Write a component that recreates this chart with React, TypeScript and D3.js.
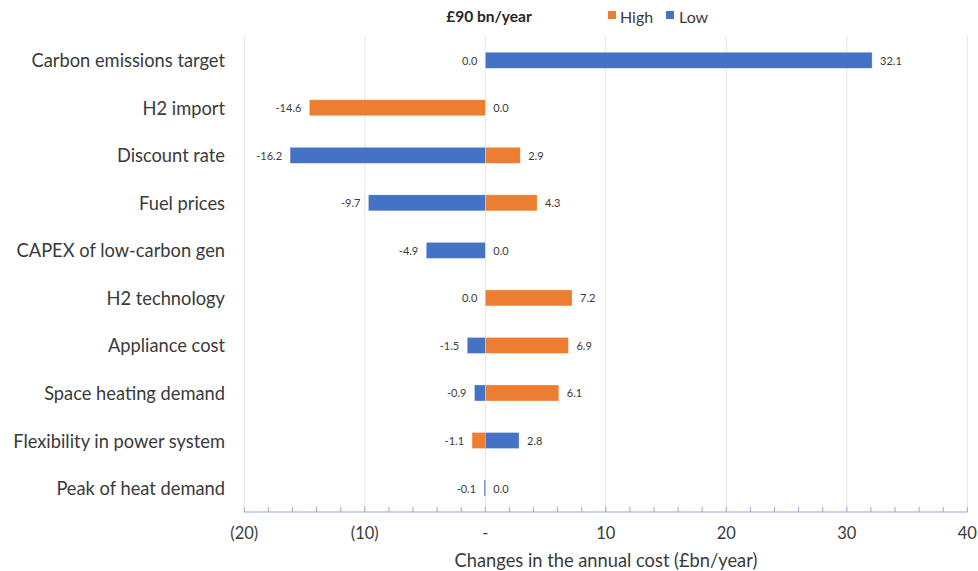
import React from "react";
import * as d3 from "d3";

// Sensitivity of annual system cost (£bn/year) around a £90 bn/year base case
const categories = [
  "Carbon emissions target",
  "H2 import",
  "Discount rate",
  "Fuel prices",
  "CAPEX of low-carbon gen",
  "H2 technology",
  "Appliance cost",
  "Space heating demand",
  "Flexibility in power system",
  "Peak of heat demand",
];
const highValues = [0.0, -14.6, 2.9, 4.3, 0.0, 7.2, 6.9, 6.1, -1.1, 0.0];
const lowValues = [32.1, 0.0, -16.2, -9.7, -4.9, 0.0, -1.5, -0.9, 2.8, -0.1];
const tickValues = [-20, -10, 0, 10, 20, 30, 40];
const tickLabel = (v: number) => (v < 0 ? `(${Math.abs(v)})` : v === 0 ? "-" : `${v}`);

const W = 978;
const H = 571;
const FONT = "Lato, 'Open Sans', sans-serif";
const HIGH = "#ED7D31";
const LOW = "#4472C4";
const TEXT = "#3a3a3a";

export default function App() {
  const x = d3.scaleLinear().domain([-20, 40]).range([244.3, 967.3]);
  const y = d3
    .scaleBand<string>()
    .domain(categories)
    .range([36.5, 511.8])
    .paddingInner(0.663)
    .paddingOuter(0.3315);
  const bh = y.bandwidth();
  const minorTicks = d3.range(-20, 40.001, 2);

  const rows = categories.map((c, i) => {
    const hi = highValues[i];
    const lo = lowValues[i];
    return { c, hi, lo, min: Math.min(hi, lo), max: Math.max(hi, lo) };
  });

  return (
    <svg width={W} height={H} style={{ position: "absolute", left: 0, top: 0, background: "#fff" }}>
      {/* gridlines */}
      {tickValues.map((t) => (
        <line key={t} x1={x(t)} x2={x(t)} y1={36.5} y2={511.8} stroke="#e3e3e3" strokeWidth={1} />
      ))}

      {/* bars */}
      {rows.map((r) => {
        const yc = y(r.c)!;
        return (
          <g key={r.c}>
            {[
              { v: r.hi, col: HIGH },
              { v: r.lo, col: LOW },
            ].map((b, j) =>
              b.v !== 0 ? (
                <rect
                  key={j}
                  x={Math.min(x(0), x(b.v))}
                  y={yc}
                  width={Math.max(Math.abs(x(b.v) - x(0)), 1.5)}
                  height={bh}
                  fill={b.col}
                  stroke="#ffffff"
                  strokeOpacity={0.5}
                  strokeWidth={0.6}
                />
              ) : null
            )}
            <text
              x={Math.min(x(r.min), x(0)) - 8}
              y={yc + bh / 2}
              textAnchor="end"
              dominantBaseline="central"
              fontFamily={FONT}
              fontSize={11}
              fill={TEXT}
            >
              {r.min.toFixed(1)}
            </text>
            <text
              x={Math.max(x(r.max), x(0)) + 8}
              y={yc + bh / 2}
              textAnchor="start"
              dominantBaseline="central"
              fontFamily={FONT}
              fontSize={11}
              fill={TEXT}
            >
              {r.max.toFixed(1)}
            </text>
            <text
              x={225}
              y={yc + bh / 2}
              textAnchor="end"
              dominantBaseline="central"
              fontFamily={FONT}
              fontSize={18.3}
              fill={TEXT}
            >
              {r.c}
            </text>
          </g>
        );
      })}

      {/* bottom axis */}
      <line x1={x(-20)} x2={x(40)} y1={512} y2={512} stroke="#8faadc" strokeWidth={1.2} />
      {minorTicks.map((t) => (
        <line key={t} x1={x(t)} x2={x(t)} y1={507} y2={512} stroke="#8faadc" strokeWidth={1} />
      ))}
      {tickValues.map((t) => (
        <text
          key={t}
          x={x(t)}
          y={533}
          textAnchor="middle"
          dominantBaseline="central"
          fontFamily={FONT}
          fontSize={16.5}
          fill={TEXT}
        >
          {tickLabel(t)}
        </text>
      ))}
      <text
        x={606}
        y={560}
        textAnchor="middle"
        dominantBaseline="central"
        fontFamily={FONT}
        fontSize={18.3}
        fill={TEXT}
      >
        Changes in the annual cost (£bn/year)
      </text>

      {/* title and legend */}
      <text x={489} y={16} textAnchor="middle" dominantBaseline="central" fontFamily={FONT} fontSize={15.5} fontWeight="bold" fill="#262626">
        £90 bn/year
      </text>
      <rect x={608} y={11} width={8} height={8} fill={HIGH} />
      <text x={620} y={16} dominantBaseline="central" fontFamily={FONT} fontSize={16} fill={TEXT}>
        High
      </text>
      <rect x={666} y={11} width={8} height={8} fill={LOW} />
      <text x={679} y={16} dominantBaseline="central" fontFamily={FONT} fontSize={16} fill={TEXT}>
        Low
      </text>
    </svg>
  );
}
